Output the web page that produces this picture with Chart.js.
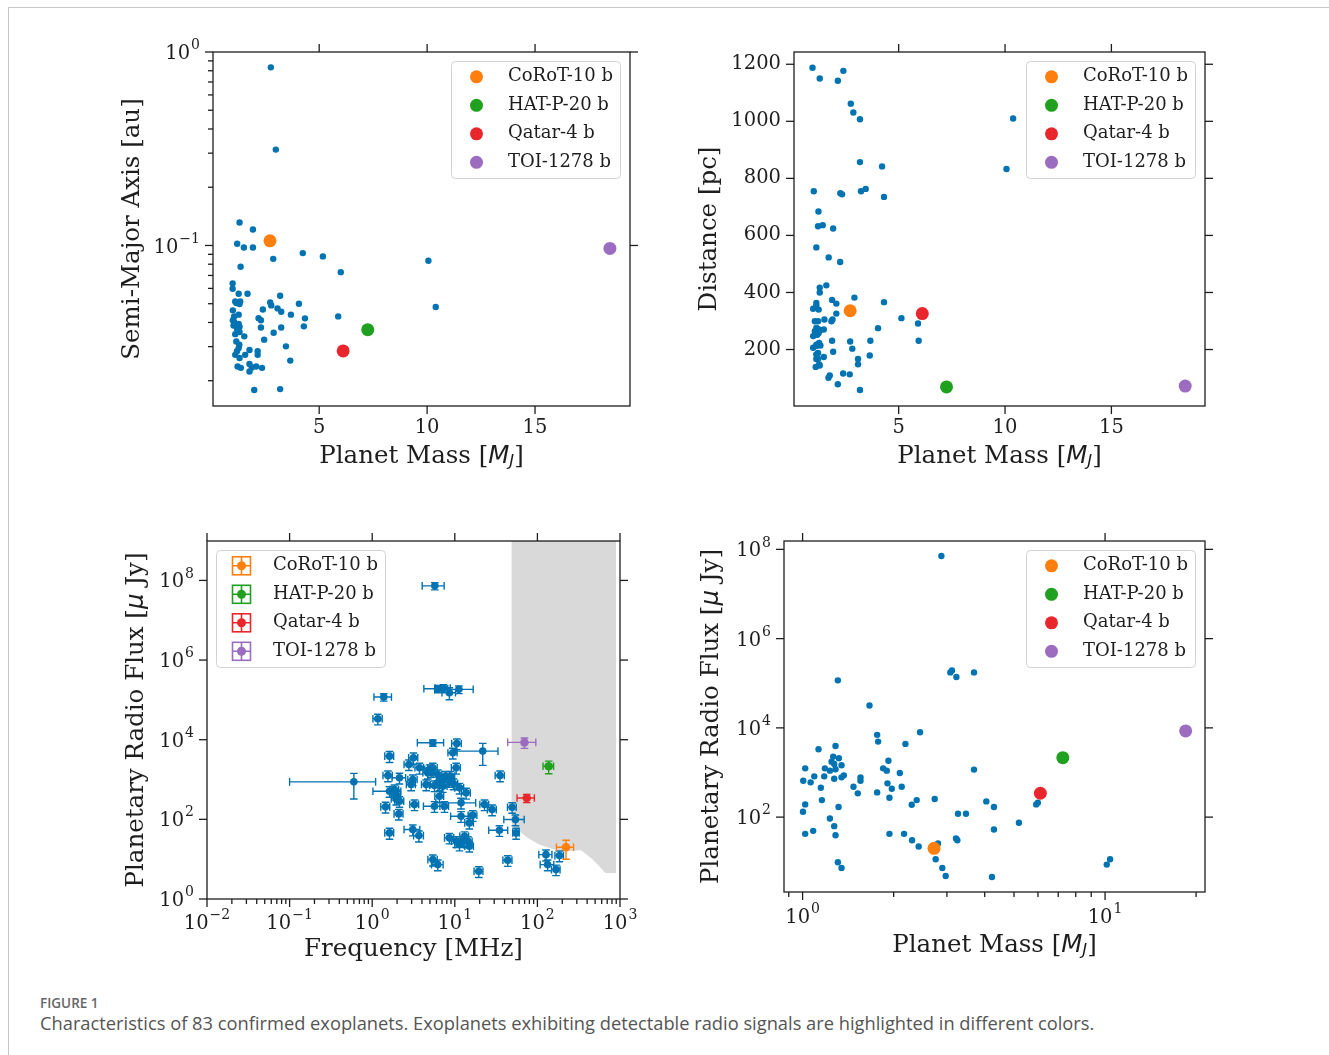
<!DOCTYPE html>
<html>
<head>
<meta charset="utf-8">
<script src="https://cdn.jsdelivr.net/npm/chart.js@4.4.0/dist/chart.umd.min.js"></script>
<style>
  html, body { margin: 0; padding: 0; background: #fff; }
  body { width: 1329px; height: 1055px; position: relative; overflow: hidden; }
  #frame { position: absolute; left: 8px; top: 7px; right: 0; bottom: 0; border-top: 1px solid #c8c8c8; border-left: 1px solid #c8c8c8; }
  canvas { position: absolute; }
  #fig-label { position: absolute; left: 40px; top: 994px; font: 600 13.5px 'Open Sans'; color: #666; }
  #fig-caption { position: absolute; left: 40px; top: 1010px; font: 18.3px 'Open Sans'; color: #555; }
</style>
</head>
<body>
<div id="frame"></div>
<canvas id="c1"></canvas>
<canvas id="c2"></canvas>
<canvas id="c3"></canvas>
<canvas id="c4"></canvas>
<div id="fig-label">FIGURE 1</div>
<div id="fig-caption">Characteristics of 83 confirmed exoplanets. Exoplanets exhibiting detectable radio signals are highlighted in different colors.</div>

<script>
// ---- planets with detected radio signals ----
const names = ['CoRoT-10 b', 'HAT-P-20 b', 'Qatar-4 b', 'TOI-1278 b'];
const hlColors = ['#ff7f0e', '#1fa01f', '#e8262b', '#9b6cc0'];
const blue = '#0173b2';

const hlMass = [2.72, 7.25, 6.11, 18.47];
const hlSma = [0.1057, 0.0367, 0.0285, 0.0965];
const hlDist = [336, 69, 326, 72];
const hlFreq = [222, 137, 74.3, 69.7];
const hlFreqErr = [52, 20, 17.6, 26];
const hlFlux = [20, 2150, 343, 8550];
const hlFluxErr = [10, 750, 80, 2500];

// ---- top left: mass vs semi-major axis ----
const p1Mass = [2.76, 2.99, 1.31, 1.93, 1.20, 1.51, 1.93, 2.87, 1.36, 4.24, 5.17, 6.00, 10.06, 10.40,
  0.99, 0.99, 1.27, 1.68, 3.19, 1.11, 1.34, 1.31, 4.06, 2.73, 2.78, 1.00, 2.39, 3.07, 3.24, 1.27, 3.69, 4.34, 5.88, 1.00,
  1.06, 2.19, 2.30, 1.27, 1.31, 1.19, 2.30, 3.24, 4.29, 1.11, 1.31, 1.53, 2.89, 1.16, 1.30, 2.45, 3.46, 1.27, 1.77, 2.15,
  2.15, 1.11, 1.57, 3.66, 1.22, 1.37, 1.77, 1.88, 1.77, 2.08, 2.35, 1.99, 3.19,
  1.16, 1.06, 1.03, 1.19, 1.31];
const p1Sma = [0.833, 0.313, 0.1315, 0.121, 0.102, 0.0977, 0.0977, 0.0853, 0.0776, 0.0913, 0.0878, 0.0728, 0.0833, 0.0481,
  0.0637, 0.0597, 0.0563, 0.0563, 0.0550, 0.0514, 0.0514, 0.0498, 0.0500, 0.0508, 0.0490, 0.0462, 0.0467, 0.0473, 0.0454,
  0.0439, 0.0439, 0.0420, 0.0430, 0.0411, 0.0403, 0.0421, 0.0411, 0.0393, 0.0380, 0.0371, 0.0377, 0.0377, 0.0382, 0.0348,
  0.0357, 0.0339, 0.0354, 0.0319, 0.0307, 0.0326, 0.0301, 0.0295, 0.0288, 0.0284, 0.0272, 0.0272, 0.0272, 0.0254, 0.0237,
  0.0233, 0.0244, 0.0234, 0.0223, 0.0237, 0.0233, 0.0179, 0.0181,
  0.0504, 0.0430, 0.0386, 0.0284, 0.0262];

// ---- top right: mass vs distance ----
const p2Mass = [0.95, 1.29, 2.40, 2.14, 2.75, 2.87, 3.18, 10.38, 3.18, 4.22, 10.07, 1.01, 2.26, 2.34, 3.23, 3.45, 4.31, 1.23,
  1.21, 1.43, 1.92, 1.13, 1.71, 2.25,
  1.29, 1.60, 1.29, 1.87, 2.07, 2.92, 4.31, 1.13, 0.98, 1.24, 1.13, 2.07, 5.13, 5.91, 1.06, 1.21, 1.51, 1.84, 1.89, 1.13,
  1.06, 1.21, 1.32, 1.48, 4.03, 0.98, 1.17, 1.24, 1.26, 1.13, 0.98, 1.13, 1.32, 1.87, 2.72, 3.67, 2.82, 5.94, 1.21, 1.13,
  1.92, 1.48, 1.21, 1.13, 3.09, 3.09, 3.64, 1.26, 1.10, 1.29, 1.76, 1.70, 2.39, 2.70, 2.14, 3.18];
const p2Dist = [1188, 1150, 1177, 1142, 1062, 1031, 1007, 1010, 857, 842, 833, 755, 748, 744, 755, 763, 735, 684,
  632, 636, 624, 558, 523, 507,
  417, 425, 400, 374, 361, 382, 366, 363, 343, 340, 354, 326, 310, 291, 299, 299, 305, 299, 305, 276,
  264, 272, 268, 270, 275, 247, 252, 258, 223, 217, 206, 212, 214, 231, 228, 231, 203, 231, 188, 183,
  192, 174, 167, 167, 167, 148, 179, 148, 139, 144, 109, 101, 116, 113, 78, 58];

// ---- bottom left: frequency vs radio flux (with errors) ----
const p3Freq = [5.73, 6.22, 7.3, 8.6, 11.2, 1.38, 1.17, 5.42, 10.57, 9.46, 21.8, 0.60, 1.62, 3.16, 2.78, 4.94, 5.42, 4.71,
  10.38, 8.87, 7.71, 8.61, 1.55, 2.14, 3.10, 2.96,
  35.3, 6.53, 7.16, 11.4, 13.7, 1.62, 1.95, 2.14, 4.50, 5.67, 6.53, 3.25, 1.45, 2.10, 5.67, 7.50, 11.9, 22.9, 28.3, 49.4,
  11.9, 16.5, 15.0, 54.2, 3.10, 3.67,
  1.62, 8.61, 13.1, 14.4, 11.4, 15.0, 34.7, 55.2, 5.42, 6.22, 43.7, 19.5, 127, 185, 133, 168, 5.17, 6.22, 8.22, 9.64,
  12.5, 1.86, 1.95, 3.74, 10.4, 6.84];
const p3Flux = [7.3e7, 1.91e5, 1.99e5, 1.51e5, 1.84e5, 1.18e5, 3.36e4, 8370, 8050, 4690, 5170, 875, 3870, 3520, 2390, 1790,
  1970, 1480, 1970, 1216, 1216, 910, 1263, 1104, 1002, 750,
  1263, 750, 681, 618, 463, 510, 421, 286, 750, 708, 382, 236, 206, 137, 214, 214, 260, 236, 176, 202,
  120, 127, 81.5, 98.9, 55.4, 39.1,
  45.7, 34.2, 37.6, 28.2, 23.2, 21.1, 53.3, 45.7, 9.75, 7.3, 9.4, 4.96, 13.0, 12.3, 7.3, 5.47, 1622, 1340, 1042, 795,
  28.2, 561, 327, 1970, 28.2, 1002];
const p3FreqErr = [1.7, 2.0, 1.5, 1.6, 5.5, 0.33, 0.15, 1.9, 1.4, 1.2, 11.5, 0.5, 0.2, 0.4, 0.35, 0.6, 0.7, 0.6,
  1.3, 1.1, 1.0, 1.1, 0.2, 0.4, 0.4, 0.37,
  4.5, 0.8, 0.9, 1.4, 1.7, 0.6, 0.25, 0.27, 0.55, 0.7, 0.8, 0.4, 0.18, 0.26, 1.5, 0.9, 6, 2.8, 3.5, 6,
  3, 2, 1.8, 15, 0.67, 0.5,
  0.2, 1.1, 1.6, 1.8, 1.4, 1.8, 9, 5, 0.7, 1.0, 5.5, 2.4, 23, 22, 25, 20, 0.6, 0.75, 1.0, 1.2,
  1.5, 0.23, 0.25, 0.45, 1.3, 0.85];
const p3FluxErr = [1.5e7, 4e4, 4e4, 5e4, 4e4, 2.5e4, 1e4, 1500, 2400, 1400, 2900, 550, 1200, 1100, 700, 540,
  600, 450, 600, 370, 370, 270, 380, 330, 300, 225,
  380, 225, 205, 185, 140, 150, 125, 85, 225, 210, 115, 70, 62, 41, 64, 64, 78, 70, 53, 60,
  36, 38, 24, 30, 17, 12,
  14, 10, 11, 8.5, 7, 6, 16, 14, 3, 2.2, 2.8, 1.5, 4, 3.7, 2.2, 1.6, 490, 400, 310, 240,
  8.5, 170, 98, 600, 8.5, 300];

// shaded region (lower edge)
const limitFreq = [48.4, 52.7, 60.5, 76.4, 105.6, 153, 222, 338, 446, 562, 665, 895];
const limitFlux = [81.5, 61, 50.4, 34.2, 23.2, 18.1, 15.8, 16.7, 10.7, 6.6, 4.5, 4.5];

// ---- bottom right: mass vs radio flux ----
const p4Mass = [2.876, 3.117, 3.079, 3.224, 3.687, 1.308, 1.664, 1.764, 1.777, 2.445, 2.188, 1.129, 1.285, 1.262, 1.318,
  1.247, 1.272, 1.345, 1.020, 1.185,
  1.231, 1.285, 1.922, 1.846, 1.898, 2.096, 3.687, 1.093, 1.179, 1.369, 1.345, 1.005, 1.063, 1.272, 1.554, 1.554,
  1.149, 1.473, 1.908, 1.972,
  2.127, 1.522, 1.764, 1.158, 1.937, 2.384, 2.295, 2.734, 1.020, 1.003, 1.315, 4.049, 4.292, 3.264, 3.469, 1.231,
  1.272, 1.020, 1.084, 1.285,
  1.937, 2.165, 2.301, 2.420, 3.215, 3.248, 4.292, 2.804, 2.754, 2.897, 2.972, 1.308, 1.345, 4.227, 5.190, 5.920,
  5.995, 10.13, 10.39];
const p4Flux = [7.08e7, 1.94e5, 1.75e5, 1.38e5, 1.75e5, 1.16e5, 3.18e4, 6970, 4930, 8000, 4370, 3320, 3940, 2270, 2080,
  1750, 1550, 1450, 1240, 1240,
  1100, 1180, 1840, 1240, 1100, 975, 1160, 820, 820, 863, 778, 655, 601, 727, 778, 655, 456, 481, 571, 434,
  481, 341, 358, 241, 272, 241, 189, 254, 193, 132, 168, 225, 168, 119, 119, 93.3, 62.8, 42.2, 49.3, 39.4,
  42.2, 42.2, 30.4, 21.9, 33.2, 30.4, 52.8, 25.6, 11.4, 7.26, 4.81, 9.75, 7.26, 4.56, 74.6, 193, 210, 8.63, 11.4];

// ---- tick labels ----
const massTicks = [5, 10, 15];
const massTickLabels = ['5', '10', '15'];
const smaTicks = [0.1, 1];
const smaTickLabels = ['10^−1', '10^0'];
const distTicks = [200, 400, 600, 800, 1000, 1200];
const distTickLabels = ['200', '400', '600', '800', '1000', '1200'];
const freqTicks = [0.01, 0.1, 1, 10, 100, 1000];
const freqTickLabels = ['10^−2', '10^−1', '10^0', '10^1', '10^2', '10^3'];
const fluxTicks3 = [1, 1e2, 1e4, 1e6, 1e8];
const fluxTickLabels3 = ['10^0', '10^2', '10^4', '10^6', '10^8'];
const logMassTicks = [1, 10];
const logMassTickLabels = ['10^0', '10^1'];
const fluxTicks4 = [1e2, 1e4, 1e6, 1e8];
const fluxTickLabels4 = ['10^2', '10^4', '10^6', '10^8'];

// ---- fonts and helpers ----
const INK = '#1e1e1e';
const SERIF = '"DejaVu Serif"';
const TICK_FONT = '19.5px ' + SERIF;
const EXP_FONT = '14px ' + SERIF;
const LEGEND_FONT = '18px ' + SERIF;
const TITLE_FONT = '24.5px ' + SERIF;
const MATH_FONT = 'italic 24.5px "DejaVu Sans"';
const SUB_FONT = 'italic 16.5px "DejaVu Sans"';

const massTitle = [
  { t: 'Planet Mass [', f: TITLE_FONT },
  { t: 'M', f: MATH_FONT },
  { t: 'J', f: SUB_FONT, dy: 5 },
  { t: ']', f: TITLE_FONT }
];
const fluxTitle = [
  { t: 'Planetary Radio Flux [', f: TITLE_FONT },
  { t: 'μ', f: MATH_FONT },
  { t: ' Jy]', f: TITLE_FONT }
];

function logMinors(min, max) {
  const out = [];
  for (let e = Math.floor(Math.log10(min)); e <= Math.ceil(Math.log10(max)); e++) {
    for (let k = 2; k <= 9; k++) {
      const v = k * Math.pow(10, e);
      if (v > min && v < max) out.push(v);
    }
  }
  return out;
}

function drawTickLabel(ctx, label, x, y, align) {
  const parts = label.split('^');
  ctx.font = TICK_FONT;
  const wb = ctx.measureText(parts[0]).width;
  let we = 0;
  if (parts.length > 1) { ctx.font = EXP_FONT; we = ctx.measureText(parts[1]).width + 1; }
  const x0 = align === 'right' ? x - wb - we : x - (wb + we) / 2;
  const by = (parts.length > 1 && align === 'right') ? y + 2 : y;
  ctx.textAlign = 'left';
  ctx.textBaseline = 'middle';
  ctx.font = TICK_FONT;
  ctx.fillText(parts[0], x0, by);
  if (parts.length > 1) {
    ctx.font = EXP_FONT;
    ctx.fillText(parts[1], x0 + wb + 1, by - 8.5);
  }
}

function drawRich(ctx, segs, cx, cy) {
  let w = 0;
  segs.forEach(s => { ctx.font = s.f; w += ctx.measureText(s.t).width; });
  let x = cx - w / 2;
  ctx.textAlign = 'left';
  ctx.textBaseline = 'middle';
  segs.forEach(s => {
    ctx.font = s.f;
    ctx.fillText(s.t, x, cy + (s.dy || 0));
    x += ctx.measureText(s.t).width;
  });
}

// frame, ticks on four sides, tick labels and titles
function mplAxes(ax) {
  return {
    id: 'mplAxes',
    afterDraw(chart) {
      const ctx = chart.ctx, a = chart.chartArea;
      const xs = chart.scales.x, ys = chart.scales.y;
      const MAJ = 8, MIN = 5;
      ctx.save();
      ctx.strokeStyle = INK;
      ctx.fillStyle = INK;
      ctx.lineWidth = 1.3;
      ctx.strokeRect(a.left, a.top, a.right - a.left, a.bottom - a.top);
      const line = (x1, y1, x2, y2) => { ctx.beginPath(); ctx.moveTo(x1, y1); ctx.lineTo(x2, y2); ctx.stroke(); };
      ax.xMajor.forEach(v => {
        const p = xs.getPixelForValue(v);
        line(p, a.bottom, p, a.bottom + MAJ);
        line(p, a.top, p, a.top - MAJ);
      });
      (ax.xMinor || []).forEach(v => {
        const p = xs.getPixelForValue(v);
        line(p, a.bottom, p, a.bottom + MIN);
      });
      ax.yMajor.forEach(v => {
        const p = ys.getPixelForValue(v);
        line(a.left, p, a.left - MAJ, p);
        line(a.right, p, a.right + MAJ, p);
      });
      (ax.yMinor || []).forEach(v => {
        const p = ys.getPixelForValue(v);
        line(a.left, p, a.left - MIN, p);
      });
      ax.xMajor.forEach((v, i) => drawTickLabel(ctx, ax.xLabels[i], xs.getPixelForValue(v), a.bottom + ax.xLabelDy, 'center'));
      ax.yMajor.forEach((v, i) => drawTickLabel(ctx, ax.yLabels[i], a.left - 13, ys.getPixelForValue(v), 'right'));
      drawRich(ctx, ax.xTitle, (a.left + a.right) / 2, a.bottom + ax.xTitleDy);
      ctx.translate(a.left - ax.yTitleDx, (a.top + a.bottom) / 2);
      ctx.rotate(-Math.PI / 2);
      drawRich(ctx, ax.yTitle, 0, 0);
      ctx.restore();
    }
  };
}

function drawErrIcon(ctx, cx, cy, color) {
  const h = 9;
  ctx.strokeStyle = color;
  ctx.fillStyle = color;
  ctx.lineWidth = 1.6;
  ctx.strokeRect(cx - h, cy - h, 2 * h, 2 * h);
  ctx.beginPath();
  ctx.moveTo(cx - h, cy); ctx.lineTo(cx + h, cy);
  ctx.moveTo(cx, cy - h); ctx.lineTo(cx, cy + h);
  ctx.stroke();
  ctx.beginPath();
  ctx.arc(cx, cy, 4.5, 0, Math.PI * 2);
  ctx.fill();
}

// legend box inside the plot, like matplotlib's
function boxLegend(cfg) {
  return {
    id: 'boxLegend',
    afterDatasetsDraw(chart) {
      const ctx = chart.ctx, a = chart.chartArea;
      const items = chart.data.datasets.filter(d => d.label);
      const w = 169, h = 117, inset = 9.5;
      const x0 = cfg.side === 'left' ? a.left + inset : a.right - inset - w;
      const y0 = a.top + inset;
      ctx.save();
      ctx.beginPath();
      ctx.roundRect(x0, y0, w, h, 4);
      ctx.fillStyle = 'rgba(255,255,255,0.85)';
      ctx.fill();
      ctx.strokeStyle = '#d2d2d2';
      ctx.lineWidth = 1;
      ctx.stroke();
      items.forEach((d, i) => {
        const cy = y0 + 15.3 + i * 28.5;
        const mx = x0 + 25;
        if (cfg.icon === 'errbar') {
          drawErrIcon(ctx, mx, cy, d.backgroundColor);
        } else {
          ctx.fillStyle = d.backgroundColor;
          ctx.beginPath();
          ctx.arc(mx, cy, 6.5, 0, Math.PI * 2);
          ctx.fill();
        }
        ctx.fillStyle = INK;
        ctx.font = LEGEND_FONT;
        ctx.textAlign = 'left';
        ctx.textBaseline = 'middle';
        ctx.fillText(d.label, x0 + 56.5, cy);
      });
      ctx.restore();
    }
  };
}

// error bars with caps, drawn just under each dataset's markers
const errorBarPlugin = {
  id: 'errorBars',
  beforeDatasetDraw(chart, args) {
    const ds = chart.data.datasets[args.index];
    if (!ds.errorBars) return;
    const ctx = chart.ctx, a = chart.chartArea;
    const xs = chart.scales.x, ys = chart.scales.y;
    const cap = 3.8;
    ctx.save();
    ctx.beginPath();
    ctx.rect(a.left, a.top, a.right - a.left, a.bottom - a.top);
    ctx.clip();
    ctx.strokeStyle = ds.backgroundColor;
    ctx.lineWidth = 1.4;
    ds.data.forEach(p => {
      const px = xs.getPixelForValue(p.x), py = ys.getPixelForValue(p.y);
      const xl = xs.getPixelForValue(p.x - p.xErr), xr = xs.getPixelForValue(p.x + p.xErr);
      const yt = ys.getPixelForValue(p.y + p.yErr), yb = ys.getPixelForValue(p.y - p.yErr);
      ctx.beginPath();
      ctx.moveTo(xl, py); ctx.lineTo(xr, py);
      ctx.moveTo(xl, py - cap); ctx.lineTo(xl, py + cap);
      ctx.moveTo(xr, py - cap); ctx.lineTo(xr, py + cap);
      ctx.moveTo(px, yt); ctx.lineTo(px, yb);
      ctx.moveTo(px - cap, yt); ctx.lineTo(px + cap, yt);
      ctx.moveTo(px - cap, yb); ctx.lineTo(px + cap, yb);
      ctx.stroke();
    });
    ctx.restore();
  }
};

// ---- datasets ----
function pts(xArr, yArr) {
  return xArr.map((x, i) => ({ x: x, y: yArr[i] }));
}
function blueSet(xArr, yArr, r) {
  return { data: pts(xArr, yArr), backgroundColor: blue, borderColor: blue, pointBorderWidth: 0, pointRadius: r, order: 1 };
}
function hlSets(xArr, yArr, r) {
  return names.map((n, i) => ({
    label: n, data: [{ x: xArr[i], y: yArr[i] }],
    backgroundColor: hlColors[i], borderColor: hlColors[i], pointBorderWidth: 0, pointRadius: r, order: 0
  }));
}

// ---- placement of each canvas and of its plot box ----
const layout = {
  c1: { left: 90, top: 20, width: 580, height: 470, area: [213, 52, 630, 406] },
  c2: { left: 670, top: 20, width: 590, height: 470, area: [794, 52, 1205, 406] },
  c3: { left: 90, top: 500, width: 580, height: 480, area: [207, 541, 620, 899] },
  c4: { left: 670, top: 500, width: 590, height: 480, area: [784, 541, 1205, 892] }
};

function makeChart(id, datasets, scales, axes, legendCfg) {
  const L = layout[id];
  const canvas = document.getElementById(id);
  canvas.width = L.width;
  canvas.height = L.height;
  canvas.style.left = L.left + 'px';
  canvas.style.top = L.top + 'px';
  const [l, t, r, b] = L.area;
  return new Chart(canvas.getContext('2d'), {
    type: 'scatter',
    data: { datasets: datasets },
    options: {
      responsive: false,
      animation: false,
      events: [],
      layout: {
        autoPadding: false,
        padding: { left: l - L.left, top: t - L.top, right: L.left + L.width - r, bottom: L.top + L.height - b }
      },
      plugins: { legend: { display: false }, tooltip: { enabled: false } },
      scales: scales
    },
    plugins: [errorBarPlugin, boxLegend(legendCfg), mplAxes(axes)]
  });
}

// Semi-major axis
makeChart('c1',
  hlSets(hlMass, hlSma, 6.5).concat([blueSet(p1Mass, p1Sma, 3.2)]),
  {
    x: { type: 'linear', min: 0.08, max: 19.4, display: false },
    y: { type: 'logarithmic', min: 0.0148, max: 1, display: false }
  },
  {
    xMajor: massTicks, xLabels: massTickLabels, xLabelDy: 22,
    yMajor: smaTicks, yLabels: smaTickLabels, yMinor: logMinors(0.0148, 1),
    xTitle: massTitle, xTitleDy: 51,
    yTitle: [{ t: 'Semi-Major Axis [au]', f: TITLE_FONT }], yTitleDx: 80
  },
  { side: 'right', icon: 'dot' });

// Distance
makeChart('c2',
  hlSets(hlMass, hlDist, 6.5).concat([blueSet(p2Mass, p2Dist, 3.2)]),
  {
    x: { type: 'linear', min: 0.08, max: 19.4, display: false },
    y: { type: 'linear', min: 2, max: 1243, display: false }
  },
  {
    xMajor: massTicks, xLabels: massTickLabels, xLabelDy: 22,
    yMajor: distTicks, yLabels: distTickLabels,
    xTitle: massTitle, xTitleDy: 51,
    yTitle: [{ t: 'Distance [pc]', f: TITLE_FONT }], yTitleDx: 84
  },
  { side: 'right', icon: 'dot' });

// Frequency vs flux, with error bars and the shaded region
const p3Blue = {
  data: p3Freq.map((f, i) => ({ x: f, y: p3Flux[i], xErr: p3FreqErr[i], yErr: p3FluxErr[i] })),
  backgroundColor: blue, borderColor: blue, pointBorderWidth: 0, pointRadius: 3.8, order: 1, errorBars: true
};
const p3Hl = names.map((n, i) => ({
  label: n,
  data: [{ x: hlFreq[i], y: hlFlux[i], xErr: hlFreqErr[i], yErr: hlFluxErr[i] }],
  backgroundColor: hlColors[i], borderColor: hlColors[i], pointBorderWidth: 0, pointRadius: 4.3, order: 0, errorBars: true
}));
const p3Region = {
  type: 'line', showLine: true,
  data: pts(limitFreq, limitFlux),
  fill: 'end', backgroundColor: '#d9d9d9', borderColor: '#d9d9d9', borderWidth: 0, pointRadius: 0, order: 2
};
makeChart('c3',
  p3Hl.concat([p3Blue, p3Region]),
  {
    x: { type: 'logarithmic', min: 0.01, max: 1000, display: false },
    y: { type: 'logarithmic', min: 1, max: 9.77e8, display: false }
  },
  {
    xMajor: freqTicks, xLabels: freqTickLabels, xMinor: logMinors(0.01, 1000), xLabelDy: 25,
    yMajor: fluxTicks3, yLabels: fluxTickLabels3,
    xTitle: [{ t: 'Frequency [MHz]', f: TITLE_FONT }], xTitleDy: 51,
    yTitle: fluxTitle, yTitleDx: 70
  },
  { side: 'left', icon: 'errbar' });

// Mass vs flux
makeChart('c4',
  hlSets(hlMass, hlFlux, 6.5).concat([blueSet(p4Mass, p4Flux, 3.2)]),
  {
    x: { type: 'logarithmic', min: 0.868, max: 21.4, display: false },
    y: { type: 'logarithmic', min: 2.1, max: 1.54e8, display: false }
  },
  {
    xMajor: logMassTicks, xLabels: logMassTickLabels, xMinor: logMinors(0.868, 21.4), xLabelDy: 26,
    yMajor: fluxTicks4, yLabels: fluxTickLabels4,
    xTitle: massTitle, xTitleDy: 54,
    yTitle: fluxTitle, yTitleDx: 72
  },
  { side: 'right', icon: 'dot' });
</script>
</body>
</html>
